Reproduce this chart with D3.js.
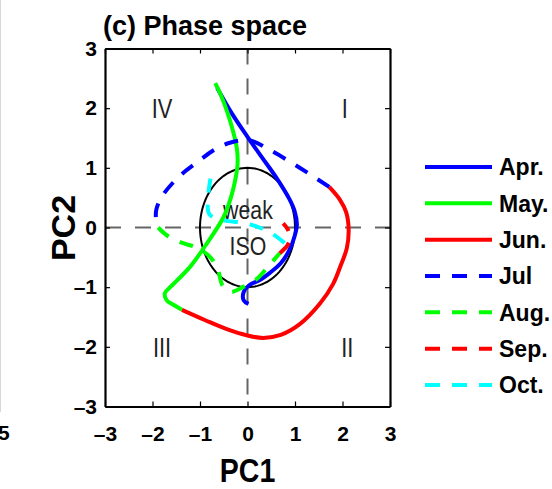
<!DOCTYPE html>
<html>
<head>
<meta charset="utf-8">
<script src="https://cdn.jsdelivr.net/npm/d3@7"></script>
<style>
  html, body { margin: 0; padding: 0; background: #fff; }
  svg { display: block; font-family: "Liberation Sans", Arial, Helvetica, sans-serif; }
</style>
</head>
<body>
<svg id="chart" width="552" height="489"></svg>
<script>
// Monthly trajectories of the ISO in (PC1, PC2) phase space
const months = ["Apr.", "May.", "Jun.", "Jul", "Aug.", "Sep.", "Oct."];
const monthColors = ["#0000ff", "#00ff00", "#ff0000", "#0000ff", "#00ff00", "#ff0000", "#00ffff"];
const monthDashed = [false, false, false, true, true, true, true];

const apr = [[0.02,-1.28],[-0.08,-1.22],[-0.08,-1.08],[0.05,-0.96],[0.26,-0.88],[0.47,-0.76],[0.7,-0.6],[0.88,-0.38],[0.99,-0.15],[1.04,0.05],[0.99,0.28],[0.88,0.48],[0.62,0.82],[0.3,1.18],[0.0,1.52],[-0.32,1.9],[-0.64,2.34]];
const may = [[-0.68,2.42],[-0.55,2.2],[-0.42,1.92],[-0.3,1.6],[-0.22,1.3],[-0.21,1.05],[-0.27,0.75],[-0.35,0.5],[-0.5,0.18],[-0.85,-0.26],[-1.21,-0.66],[-1.6,-0.98],[-1.74,-1.1],[-1.7,-1.22],[-1.55,-1.3],[-1.38,-1.38]];
const jun = [[-1.38,-1.38],[-0.9,-1.55],[-0.45,-1.7],[0.0,-1.81],[0.33,-1.85],[0.7,-1.8],[1.1,-1.62],[1.53,-1.27],[1.8,-0.95],[1.97,-0.62],[2.09,-0.35],[2.13,-0.05],[2.08,0.25],[1.95,0.46],[1.72,0.68]];
const jul = [[1.72,0.68],[1.3,0.9],[0.9,1.1],[0.47,1.3],[0.05,1.46],[-0.37,1.42],[-0.7,1.3],[-1.0,1.13],[-1.3,0.95],[-1.57,0.75],[-1.8,0.52],[-1.92,0.3],[-1.92,0.1],[-1.88,0.0]];
const aug = [[-1.88,0.0],[-1.7,-0.13],[-1.4,-0.25],[-1.07,-0.34],[-0.78,-0.5],[-0.62,-0.72],[-0.52,-0.98],[-0.35,-1.08],[-0.1,-1.0],[0.2,-0.86],[0.47,-0.62],[0.68,-0.43]];
const sep = [[0.68,-0.43],[0.84,-0.3],[0.9,-0.16],[0.84,-0.02],[0.75,0.07]];
const oct = [[0.78,-0.26],[0.55,-0.12],[0.25,0.0],[-0.1,0.08],[-0.5,0.12],[-0.8,0.22],[-0.83,0.5],[-0.75,0.95]];
const tracks = [apr, may, jun, jul, aug, sep, oct];

const tickValues = [-3, -2, -1, 0, 1, 2, 3];
const quadrants = ["I", "II", "III", "IV"];
const quadrantPos = [[2.05, 2], [2.1, -2], [-1.8, -2], [-1.8, 2]];
const weakRadius = 1;

const svg = d3.select("#chart");
const x = d3.scaleLinear().domain([-3, 3]).range([105, 390]);
const y = d3.scaleLinear().domain([-3, 3]).range([406.5, 48.5]);

// remnant of the neighbouring panel on the left
svg.append("line").attr("x1", 0.5).attr("x2", 0.5).attr("y1", 0).attr("y2", 412)
  .attr("stroke", "#d8d8d8").attr("stroke-width", 1);
svg.append("text").attr("x", -2).attr("y", 440).attr("font-size", 21).attr("font-weight", "bold").text("5");

// zero lines
const zl = svg.append("g").attr("stroke", "#666").attr("stroke-width", 2).attr("stroke-dasharray", "16,14");
zl.append("line").attr("x1", x(-3)).attr("x2", x(3)).attr("y1", y(0)).attr("y2", y(0));
zl.append("line").attr("x1", x(0)).attr("x2", x(0)).attr("y1", y(3)).attr("y2", y(-3));

// weak ISO circle
const circ = d3.range(0, 361, 3).map(a => [weakRadius * Math.cos(a * Math.PI / 180), weakRadius * Math.sin(a * Math.PI / 180)]);
const line = d3.line().x(d => x(d[0])).y(d => y(d[1]));
svg.append("path").attr("d", line(circ)).attr("fill", "none").attr("stroke", "#000").attr("stroke-width", 2);

// quadrant labels
quadrants.forEach((q, i) => {
  const px = x(quadrantPos[i][0]), py = y(quadrantPos[i][1]);
  svg.append("text").attr("transform", `translate(${px},${py}) scale(0.78,1)`)
    .attr("text-anchor", "middle").attr("dy", "0.36em").attr("font-size", 28).attr("fill", "#222").text(q);
});
[["weak", 0.3], ["ISO", -0.31]].forEach(([t, v]) => {
  svg.append("text").attr("transform", `translate(${x(0.01)},${y(v)}) scale(0.82,1)`)
    .attr("text-anchor", "middle").attr("dy", "0.36em").attr("font-size", 26).attr("fill", "#222").text(t);
});

// trajectories
const curve = d3.line().x(d => x(d[0])).y(d => y(d[1])).curve(d3.curveCatmullRom.alpha(0.5));
tracks.forEach((pts, i) => {
  svg.append("path").attr("d", curve(pts)).attr("fill", "none")
    .attr("stroke", monthColors[i]).attr("stroke-width", 4)
    .attr("stroke-linejoin", "round")
    .attr("stroke-dasharray", monthDashed[i] ? "14,12" : null);
});

// axes box with inward ticks
const fmt = d => (d < 0 ? "\u2013" : "") + Math.abs(d);
const gb = svg.append("g").attr("transform", `translate(0,${y(-3)})`)
  .call(d3.axisBottom(x).tickValues(tickValues).tickSizeInner(-5).tickSizeOuter(0).tickPadding(20).tickFormat(fmt));
const gl = svg.append("g").attr("transform", `translate(${x(-3)},0)`)
  .call(d3.axisLeft(y).tickValues(tickValues).tickSizeInner(-5).tickSizeOuter(0).tickPadding(8).tickFormat(fmt));
const gt = svg.append("g").attr("transform", `translate(0,${y(3)})`)
  .call(d3.axisTop(x).tickValues(tickValues).tickSizeInner(-5).tickSizeOuter(0).tickFormat(""));
const gr = svg.append("g").attr("transform", `translate(${x(3)},0)`)
  .call(d3.axisRight(y).tickValues(tickValues).tickSizeInner(-5).tickSizeOuter(0).tickFormat(""));
[gb, gl, gt, gr].forEach(g => {
  g.select(".domain").attr("stroke", "#000").attr("stroke-width", 2.2);
  g.selectAll(".tick line").attr("stroke", "#000").attr("stroke-width", 1.2);
  g.selectAll(".tick text").attr("font-size", 21).attr("font-weight", "bold").attr("fill", "#000")
    .attr("font-family", "'Liberation Sans', Arial, sans-serif");
});
gb.selectAll(".tick text").attr("dy", "0.71em");

// titles
svg.append("text").attr("x", 103).attr("y", 35).attr("font-size", 27).attr("font-weight", "bold").text("(c) Phase space");
svg.append("text").attr("transform", `translate(${x(0)},482) scale(0.84,1)`).attr("text-anchor", "middle")
  .attr("font-size", 34).attr("font-weight", "bold").text("PC1");
svg.append("text").attr("transform", `translate(75,228) rotate(-90)`).attr("text-anchor", "middle")
  .attr("font-size", 34).attr("font-weight", "bold").text("PC2");

// legend
const legY = d3.scalePoint().domain(months).range([167, 385]);
months.forEach((m, i) => {
  const ly = legY(m);
  svg.append("line").attr("x1", 425).attr("x2", 492).attr("y1", ly).attr("y2", ly)
    .attr("stroke", monthColors[i]).attr("stroke-width", 4)
    .attr("stroke-dasharray", monthDashed[i] ? "15,12" : null);
  svg.append("text").attr("x", 499).attr("y", ly).attr("dy", "0.36em")
    .attr("font-size", 23).attr("font-weight", "bold").text(m);
});
</script>
</body>
</html>
